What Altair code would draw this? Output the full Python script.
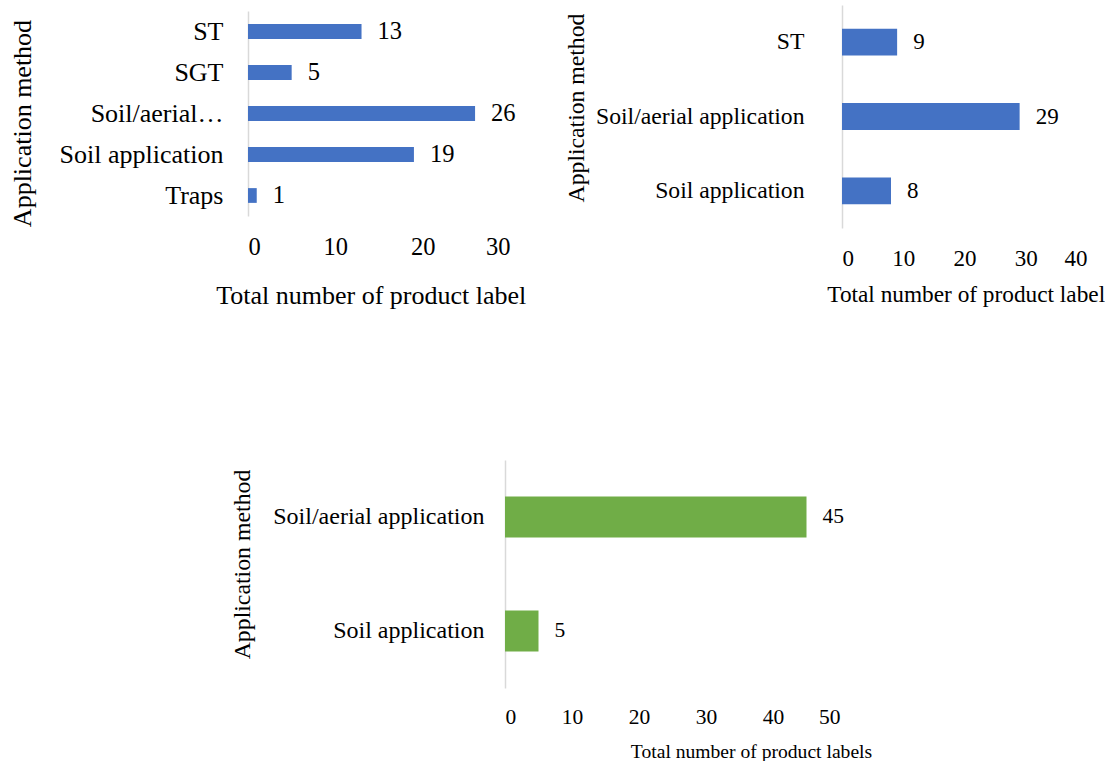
import altair as alt
import pandas as pd

FONT = "Liberation Serif"
BLUE = "#4472C4"
GREEN = "#70AD47"
AXIS_GREY = "#D9D9D9"
INK = "#000000"

# Panel 1: application methods and label counts
methods_1 = ["ST", "SGT", "Soil/aerial application", "Soil application", "Traps"]
counts_1 = [13, 5, 26, 19, 1]
ticks_1 = [0, 10, 20, 30]

# Panel 2
methods_2 = ["ST", "Soil/aerial application", "Soil application"]
counts_2 = [9, 29, 8]
ticks_2 = [0, 10, 20, 30, 40]

# Panel 3
methods_3 = ["Soil/aerial application", "Soil application"]
counts_3 = [45, 5]
ticks_3 = [0, 10, 20, 30, 40, 50]

Y_TITLE = "Application method"


def bar_panel(methods, counts, ticks, color, x_title, width, height,
              cat_fs, num_fs, ytitle_fs, xtitle_fs,
              y_label_pad, y_title_x, y_title_y, x_label_pad, x_title_x,
              x_title_y, y_range=None, label_expr=None):
    df = pd.DataFrame({"method": methods, "count": counts})
    scale_kw = dict(domain=methods, paddingInner=0.64, paddingOuter=0.32)
    if y_range is not None:
        scale_kw["range"] = y_range
    y_axis_kw = dict(
        title=Y_TITLE,
        labelFontSize=cat_fs,
        titleFontSize=ytitle_fs,
        labelPadding=y_label_pad,
        labelLimit=400,
        domainColor=AXIS_GREY,
        domainWidth=1.5,
        ticks=False,
        tickSize=0,
        grid=False,
        titleAngle=270,
        titleAlign="center",
        titleBaseline="alphabetic",
        titleX=y_title_x,
        titleY=y_title_y,
    )
    if label_expr is not None:
        y_axis_kw["labelExpr"] = label_expr
    y = alt.Y("method:N", sort=None, scale=alt.Scale(**scale_kw),
              axis=alt.Axis(**y_axis_kw))
    x = alt.X(
        "count:Q",
        scale=alt.Scale(domain=[ticks[0], ticks[-1]], nice=False),
        axis=alt.Axis(
            title=x_title,
            values=ticks,
            format="d",
            labelFontSize=num_fs,
            titleFontSize=xtitle_fs,
            labelPadding=x_label_pad,
            domain=False,
            ticks=False,
            tickSize=0,
            grid=False,
            titleAlign="center",
            titleBaseline="alphabetic",
            titleX=x_title_x,
            titleY=x_title_y,
        ),
    )
    base = alt.Chart(df).encode(x=x, y=y)
    bars = base.mark_bar(color=color)
    values = base.mark_text(
        align="left", baseline="middle", dx=16, fontSize=num_fs, font=FONT, color=INK
    ).encode(text="count:Q")
    return alt.layer(bars, values).properties(width=width, height=height)


p1 = bar_panel(
    methods_1, counts_1, ticks_1, BLUE, "Total number of product label",
    width=262, height=223, cat_fs=26, num_fs=24.5, ytitle_fs=26, xtitle_fs=26,
    y_label_pad=25, y_title_x=-217.6, y_title_y=118,
    x_label_pad=7.5, x_title_x=122.7, x_title_y=75.8,
    y_range=[6, 211],
    label_expr="datum.value == 'Soil/aerial application' ? 'Soil/aerial\u2026' : datum.value",
)

p2 = bar_panel(
    methods_2, counts_2, ticks_2, BLUE, "Total number of product label",
    width=245, height=223, cat_fs=23.7, num_fs=23, ytitle_fs=23.7, xtitle_fs=23.3,
    y_label_pad=38, y_title_x=-258.6, y_title_y=102.5,
    x_label_pad=19, x_title_x=123.7, x_title_y=73.8,
)

p3 = bar_panel(
    methods_3, counts_3, ticks_3, GREEN, "Total number of product labels",
    width=335, height=228, cat_fs=24, num_fs=21.5, ytitle_fs=23.8, xtitle_fs=19.6,
    y_label_pad=21, y_title_x=-255.5, y_title_y=104,
    x_label_pad=18, x_title_x=246, x_title_y=69,
)


def spacer(w):
    # invisible block used only to offset a row horizontally
    return (
        alt.Chart(pd.DataFrame({"v": [0]}))
        .mark_point(opacity=0)
        .encode(x=alt.value(0), y=alt.value(0))
        .properties(width=w, height=1)
    )


top = alt.hconcat(spacer(1), alt.hconcat(p1, p2, spacing=38), spacing=0)
bottom = alt.hconcat(spacer(224), p3, spacing=0)

chart = (
    alt.vconcat(top, bottom, spacing=148)
    .properties(padding={"left": 3, "top": 2, "right": 0, "bottom": 0}, background="white")
    .configure_view(strokeWidth=0)
    .configure_axis(
        labelFont=FONT,
        titleFont=FONT,
        labelColor=INK,
        titleColor=INK,
        titleFontWeight="normal",
    )
)

chart.save("out.html", embed_options={"renderer": "svg", "actions": False})
